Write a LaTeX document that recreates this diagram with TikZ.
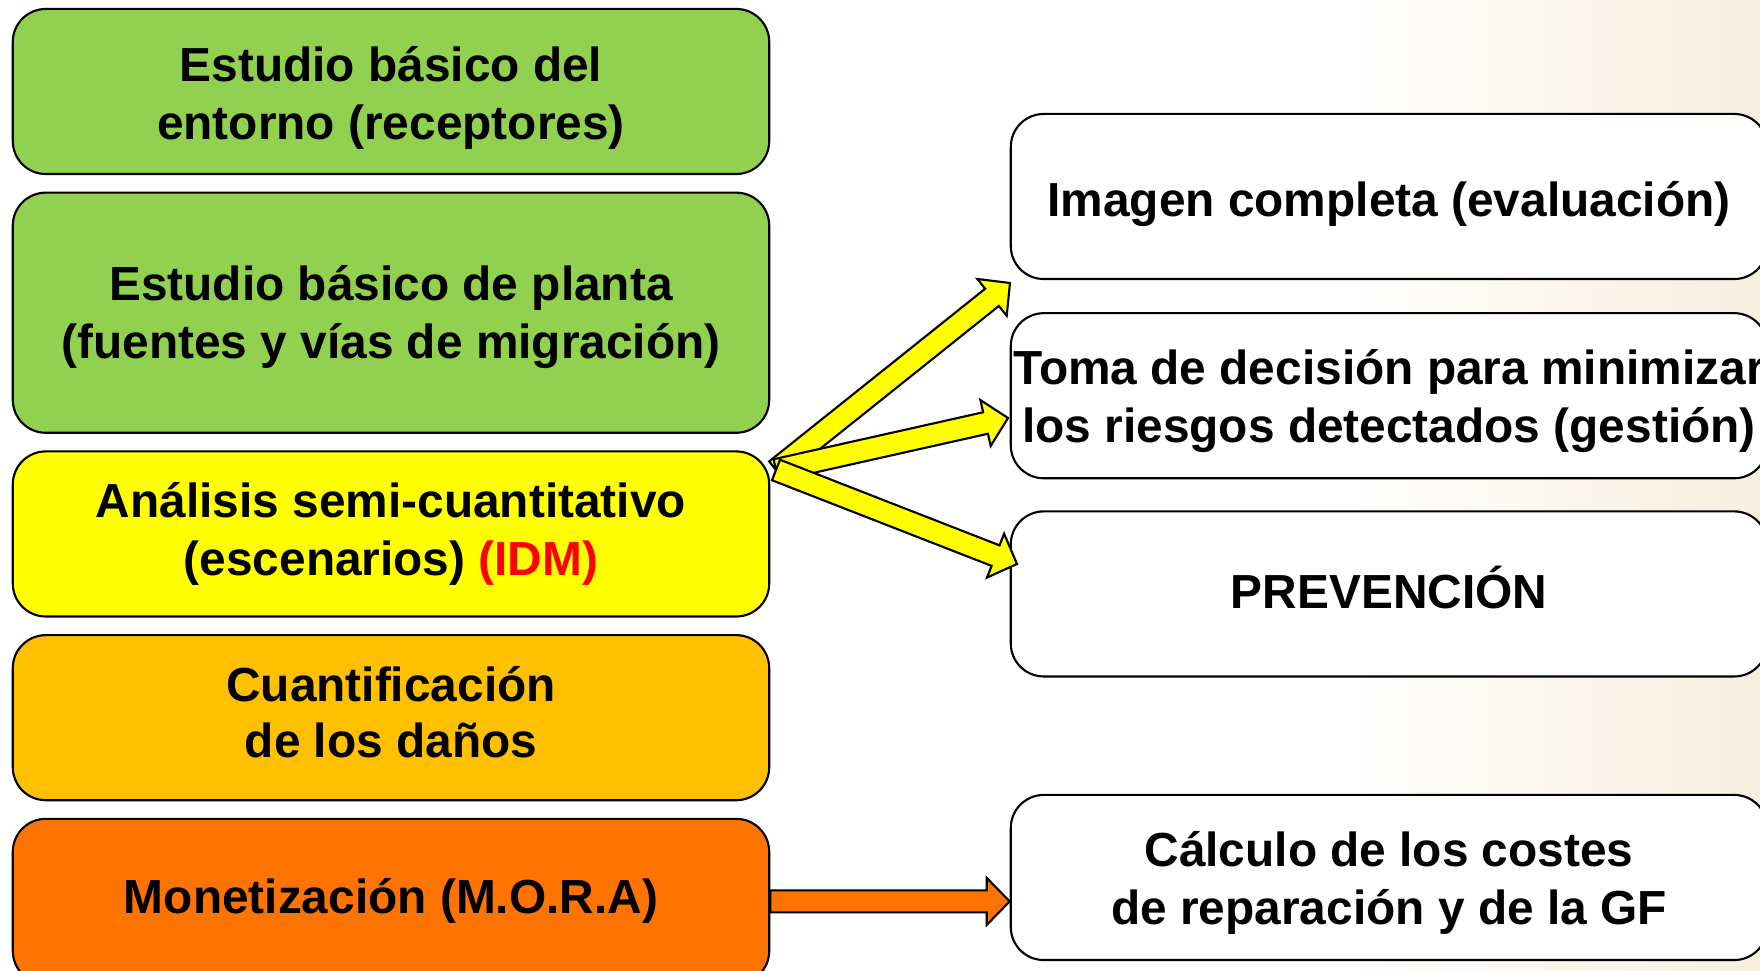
\documentclass[tikz,border=0pt]{standalone}
\usepackage{fontspec}
\setmainfont{Liberation Sans}
\usetikzlibrary{positioning,calc}
\definecolor{grn}{HTML}{92D050}
\definecolor{ylw}{HTML}{FFFF00}
\definecolor{amb}{HTML}{FFC000}
\definecolor{orng}{HTML}{FF7400}
\definecolor{idmred}{HTML}{FF0000}
\definecolor{bgbeige}{HTML}{F6EFDD}
\newcommand{\lines}[2]{\raisebox{#1}[\height][\depth]{\begin{tabular}{@{}c@{}}#2\end{tabular}}}
\tikzset{
  stage/.style={draw=black, line width=0.6pt, rounded corners=0.33cm, align=center,
    minimum width=7.56cm, minimum height=1.65cm, inner sep=0pt,
    font=\fontsize{13.6}{16.5}\selectfont\bfseries},
  result/.style={stage, fill=white},
  arrbody/.style={draw=black, line width=0.6pt, line join=miter}
}
\begin{document}
\begin{tikzpicture}[x=0.01cm, y=-0.01cm, node distance=0.165cm]
  \newcommand{\blockarr}[3]{%
    \coordinate (hb) at ($(#3)!0.23cm!(#2)$);
    \filldraw[arrbody, fill=#1] ($(#2)!0.11cm!90:(#3)$) -- ($(hb)!0.11cm!90:(#3)$)
      -- ($(hb)!0.235cm!90:(#3)$) -- (#3) -- ($(hb)!0.235cm!-90:(#3)$)
      -- ($(hb)!0.11cm!-90:(#3)$) -- ($(#2)!0.11cm!-90:(#3)$) -- cycle;}
  \useasboundingbox (0,0) rectangle (1760,971);
  \shade[left color=white, right color=bgbeige] (1350,0) rectangle (1760,971);
  % left column
  \node[stage, fill=grn] (entorno) at (391,91.5) {\lines{-2.2pt}{Estudio básico del \\ entorno (receptores)}};
  \node[stage, fill=grn, minimum height=2.40cm, below=of entorno] (planta) {\lines{-1.6pt}{Estudio básico de planta\\(fuentes y vías de migración)}};
  \node[stage, fill=ylw, below=of planta] (idm) {Análisis semi-cuantitativo\\(escenarios) \textcolor{idmred}{(IDM)}};
  \node[stage, fill=amb, below=of idm] (danos) {\lines{0pt}{Cuantificación\\[-0.6pt]de los daños}};
  \node[stage, fill=orng, below=of danos] (mora) {Monetización (M.O.R.A)};
  % right column
  \node[result] (eval) at (1389,196.5) {\lines{-2.5pt}{Imagen completa (evaluación)}};
  \node[result, below=0.32cm of eval] (gest) {\lines{-1.8pt}{Toma de decisión para minimizar\\los riesgos detectados (gestión)}};
  \node[result, below=0.31cm of gest] (prev) {\lines{-0.6pt}{PREVENCIÓN}};
  \node[result] (cost) at (1389,877.5) {\lines{-1.9pt}{Cálculo de los costes\\de reparación y de la GF}};
  % arrows
  \coordinate (src) at (776,470);
  \coordinate (t1) at (1010,283);
  \coordinate (t2) at (1008,418);
  \coordinate (t3) at (1017,564);
  \coordinate (mt) at (mora.east -| cost.west);
  \blockarr{ylw}{src}{t1}
  \blockarr{ylw}{src}{t2}
  \blockarr{ylw}{src}{t3}
  \blockarr{orng}{mora.east}{mt}
\end{tikzpicture}
\end{document}
